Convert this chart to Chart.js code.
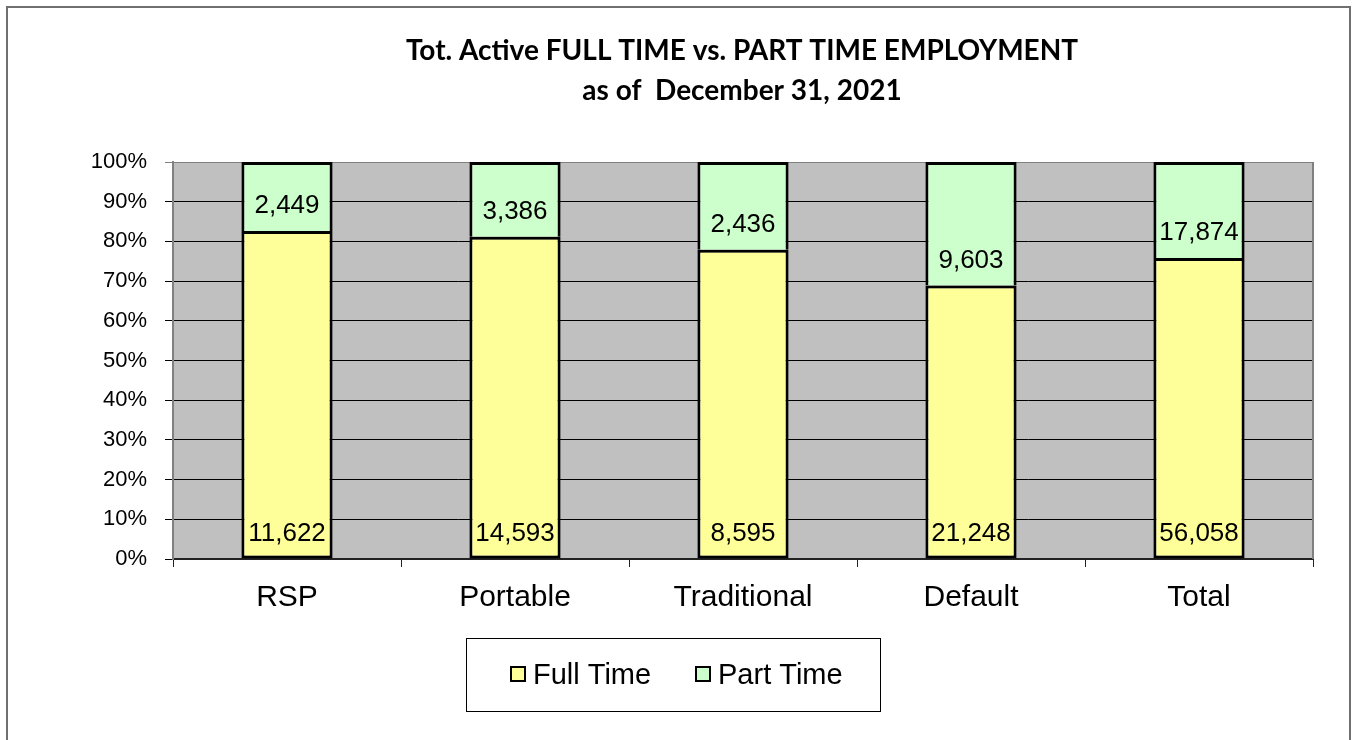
<!DOCTYPE html>
<html>
<head>
<meta charset="utf-8">
<script src="https://cdn.jsdelivr.net/npm/chart.js@4/dist/chart.umd.min.js"></script>
<style>
  html, body { margin: 0; padding: 0; background: #fff; }
  canvas { display: block; }
</style>
</head>
<body>
<canvas id="employmentChart" width="1354" height="740"></canvas>
<script>
  'use strict';

  const categories = ['RSP', 'Portable', 'Traditional', 'Default', 'Total'];
  const fullTime = [11622, 14593, 8595, 21248, 56058];
  const partTime = [2449, 3386, 2436, 9603, 17874];
  const seriesNames = ['Full Time', 'Part Time'];
  const titleLines = ['Tot. Active FULL TIME vs. PART TIME EMPLOYMENT', 'as of  December 31, 2021'];

  const fullColor = '#FFFF99';
  const partColor = '#CCFFCC';
  const labelFont = '"Liberation Sans", Arial, sans-serif';

  // share of each column, the chart is a 100% stack
  const fullPct = fullTime.map(function (v, i) { return v / (v + partTime[i]) * 100; });
  const partPct = partTime.map(function (v, i) { return v / (fullTime[i] + v) * 100; });
  const rawValues = [fullTime, partTime];

  const decorPlugin = {
    id: 'decor',
    beforeDraw: function (chart) {
      const ctx = chart.ctx;
      const a = chart.chartArea;
      ctx.save();
      ctx.fillStyle = '#fff';
      ctx.fillRect(0, 0, chart.width, chart.height);
      // outer frame
      ctx.strokeStyle = '#707070';
      ctx.lineWidth = 2;
      ctx.strokeRect(7, 7, 1343, 760);
      // plot background
      ctx.fillStyle = '#C0C0C0';
      ctx.fillRect(a.left, a.top, a.right - a.left, a.bottom - a.top);
      ctx.restore();
    },
    beforeDatasetsDraw: function (chart) {
      const ctx = chart.ctx;
      const a = chart.chartArea;
      ctx.save();
      ctx.strokeStyle = '#808080';
      ctx.lineWidth = 2;
      ctx.beginPath();
      ctx.moveTo(a.right, a.top);
      ctx.lineTo(a.right, a.bottom);
      ctx.stroke();
      ctx.restore();
    },
    afterDatasetsDraw: function (chart) {
      const ctx = chart.ctx;
      ctx.save();
      ctx.fillStyle = '#000';
      ctx.font = '26px ' + labelFont;
      ctx.textAlign = 'center';
      ctx.textBaseline = 'middle';
      chart.data.datasets.forEach(function (ds, di) {
        const meta = chart.getDatasetMeta(di);
        meta.data.forEach(function (bar, i) {
          const p = bar.getProps(['x', 'base'], true);
          ctx.fillText(rawValues[di][i].toLocaleString('en-US'), p.x, p.base - 25);
        });
      });
      ctx.restore();
    },
    afterDraw: function (chart) {
      const ctx = chart.ctx;
      ctx.save();
      // title
      ctx.fillStyle = '#000';
      ctx.font = 'bold 28px Lato, "Open Sans", sans-serif';
      ctx.textAlign = 'center';
      ctx.textBaseline = 'middle';
      ctx.fillText(titleLines[0], 742, 51);
      ctx.fillText(titleLines[1], 742, 91);

      // legend
      ctx.strokeStyle = '#000';
      ctx.lineWidth = 1;
      ctx.strokeRect(466.5, 638.5, 414, 73);
      const items = [
        { x: 511, color: chart.data.datasets[0].backgroundColor, text: seriesNames[0] },
        { x: 696, color: chart.data.datasets[1].backgroundColor, text: seriesNames[1] }
      ];
      ctx.font = '29px ' + labelFont;
      ctx.textAlign = 'left';
      items.forEach(function (it) {
        ctx.fillStyle = it.color;
        ctx.fillRect(it.x, 667, 14, 14);
        ctx.lineWidth = 2;
        ctx.strokeRect(it.x, 667, 14, 14);
        ctx.fillStyle = '#000';
        ctx.fillText(it.text, it.x + 22, 676);
      });
      ctx.restore();
    }
  };

  new Chart(document.getElementById('employmentChart'), {
    type: 'bar',
    data: {
      labels: categories,
      datasets: [
        {
          label: seriesNames[0],
          data: fullPct,
          backgroundColor: fullColor,
          borderColor: '#000',
          borderWidth: 3,
          borderSkipped: false,
          categoryPercentage: 1,
          barPercentage: 0.4
        },
        {
          label: seriesNames[1],
          data: partPct,
          backgroundColor: partColor,
          borderColor: '#000',
          borderWidth: { top: 3, left: 3, right: 3, bottom: 0 },
          borderSkipped: false,
          categoryPercentage: 1,
          barPercentage: 0.4
        }
      ]
    },
    options: {
      responsive: false,
      animation: false,
      layout: { padding: { top: 162, right: 41, bottom: 121, left: 0 } },
      plugins: {
        legend: { display: false },
        title: { display: false },
        tooltip: { enabled: false }
      },
      scales: {
        x: {
          stacked: true,
          afterFit: function (scale) { scale.height = 60; },
          grid: {
            offset: true,
            drawOnChartArea: false,
            drawTicks: true,
            tickLength: 8,
            color: '#222'
          },
          border: { display: true, color: '#222', width: 2 },
          ticks: {
            color: '#000',
            padding: 13,
            font: { family: labelFont, size: 30 }
          }
        },
        y: {
          stacked: true,
          min: 0,
          max: 100,
          afterFit: function (scale) { scale.width = 173; },
          grid: {
            color: function (c) { return c.tick && c.tick.value === 100 ? '#808080' : '#000'; },
            lineWidth: 1,
            tickLength: 8
          },
          border: { display: true, color: '#808080', width: 2 },
          ticks: {
            stepSize: 10,
            color: '#000',
            padding: 18,
            font: { family: labelFont, size: 22 },
            callback: function (v) { return v + '%'; }
          }
        }
      }
    },
    plugins: [decorPlugin]
  });
</script>
</body>
</html>
